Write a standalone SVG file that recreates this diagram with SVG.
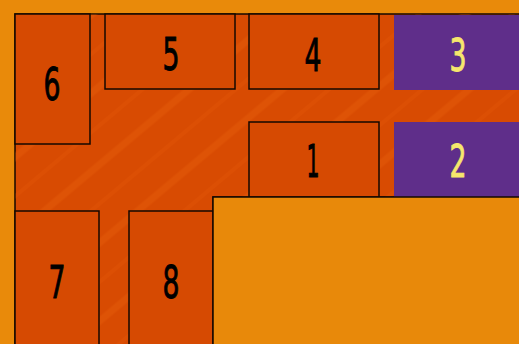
<svg xmlns="http://www.w3.org/2000/svg" width="519" height="344" viewBox="0 0 519 344">
<defs>
<style>
.bg{fill:#E98A0A}
.region{fill:#D84B02;stroke:#140800;stroke-width:1.5}
.box{fill:#D64A02;stroke:#140800;stroke-width:1.5}
.pbox{fill:#5F2E8A}
.light{fill:#E8890A;stroke:#140800;stroke-width:1.5}
.t{font-family:"DejaVu Sans Condensed","Liberation Sans Narrow",sans-serif;font-size:45px;text-anchor:middle;fill:#000;stroke:#000;stroke-width:0.9}
.ty{fill:#F6E76C;stroke:#F6E76C}
</style>
<pattern id="streaks" width="60" height="60" patternUnits="userSpaceOnUse" patternTransform="rotate(-40)">
<line x1="0" y1="10" x2="60" y2="10" stroke="#F26A10" stroke-width="7" opacity="0.22"/>
<line x1="0" y1="40" x2="60" y2="40" stroke="#F26A10" stroke-width="4" opacity="0.12"/>
</pattern>
</defs>
<rect class="bg" x="0" y="0" width="519" height="344"/>
<g id="region">
<path class="region" d="M15,14 H520 V197 H213 V345 H15 Z"/>
<path d="M15,14 H520 V197 H213 V345 H15 Z" fill="url(#streaks)"/>
</g>
<g id="node-6"><rect class="box" x="15" y="14" width="75" height="130"/><text class="t" x="52" y="100" textLength="17" lengthAdjust="spacingAndGlyphs">6</text></g>
<g id="node-5"><rect class="box" x="105" y="14" width="130" height="75"/><text class="t" x="171" y="70" textLength="17" lengthAdjust="spacingAndGlyphs">5</text></g>
<g id="node-4"><rect class="box" x="249" y="14" width="130" height="75"/><text class="t" x="313" y="71" textLength="17" lengthAdjust="spacingAndGlyphs">4</text></g>
<g id="node-3"><rect class="pbox" x="394" y="15" width="126" height="75"/><text class="t ty" x="458" y="71" textLength="17" lengthAdjust="spacingAndGlyphs">3</text></g>
<g id="node-1"><rect class="box" x="249" y="122" width="130" height="75"/><text class="t" x="313" y="177" textLength="13" lengthAdjust="spacingAndGlyphs">1</text></g>
<g id="node-2"><rect class="pbox" x="394" y="122" width="126" height="75"/><text class="t ty" x="458" y="177" textLength="17" lengthAdjust="spacingAndGlyphs">2</text></g>
<g id="node-7"><rect class="box" x="15" y="211" width="84" height="134"/><text class="t" x="57" y="298" textLength="17" lengthAdjust="spacingAndGlyphs">7</text></g>
<g id="node-8"><rect class="box" x="129" y="211" width="84" height="134"/><text class="t" x="171" y="298" textLength="17" lengthAdjust="spacingAndGlyphs">8</text></g>
<g id="node-area"><rect class="light" x="213" y="197" width="307" height="148"/></g>
<g id="connectors"></g>
</svg>
